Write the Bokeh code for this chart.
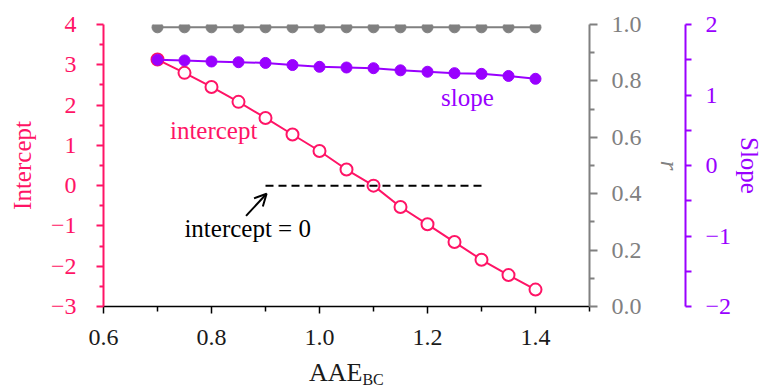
from bokeh.plotting import figure
from bokeh.layouts import column
from bokeh.models import (LinearAxis, Range1d, FixedTicker, Label, Arrow, OpenHead,
                          ColumnDataSource, CustomJSTickFormatter, Div)
from bokeh.embed import file_html
from bokeh.resources import INLINE

# ---- data ----
aae = [0.70, 0.75, 0.80, 0.85, 0.90, 0.95, 1.00, 1.05, 1.10, 1.15, 1.20, 1.25, 1.30, 1.35, 1.40]
intercept = [3.13, 2.80, 2.45, 2.08, 1.68, 1.27, 0.86, 0.40, 0.00, -0.53, -0.96, -1.40, -1.84, -2.22, -2.58]
slope = [1.50, 1.49, 1.475, 1.465, 1.455, 1.425, 1.40, 1.39, 1.38, 1.35, 1.33, 1.31, 1.30, 1.27, 1.23]
r_vals = [0.99, 0.99, 0.99, 0.99, 0.99, 0.99, 0.99, 0.99, 0.99, 0.99, 0.99, 0.99, 0.99, 0.99, 0.99]

x_ticks = [0.6, 0.8, 1.0, 1.2, 1.4]
x_tick_labels = ["0.6", "0.8", "1.0", "1.2", "1.4"]
int_ticks = [-3, -2, -1, 0, 1, 2, 3, 4]
int_tick_labels = ["\u22123", "\u22122", "\u22121", "0", "1", "2", "3", "4"]
r_ticks = [0.0, 0.2, 0.4, 0.6, 0.8, 1.0]
r_tick_labels = ["0.0", "0.2", "0.4", "0.6", "0.8", "1.0"]
slope_ticks = [-2, -1, 0, 1, 2]
slope_tick_labels = ["\u22122", "\u22121", "0", "1", "2"]

zero_line_x = [0.9, 1.3]
zero_line_y = [0, 0]

PINK = "#FF1466"
PURPLE = "#9900FF"
GRAY = "#808080"
FONT = "Liberation Serif"
TICK_FS = "24px"
LAB_FS = "25px"

PLOT_H = 354

p = figure(width=766, height=PLOT_H, output_backend="svg", toolbar_location=None,
           x_range=Range1d(0.6, 1.5), y_range=Range1d(-3, 4),
           min_border_left=103, min_border_right=176, min_border_top=24,
           min_border_bottom=PLOT_H - 306)
p.outline_line_color = None
p.xgrid.visible = False
p.ygrid.visible = False
p.extra_y_ranges = {"r": Range1d(0, 1), "slope": Range1d(-2, 2)}


def label_formatter(tick_values, tick_texts):
    return CustomJSTickFormatter(args=dict(tv=tick_values, lv=tick_texts), code="""
        for (let i = 0; i < tv.length; i++) {
            if (Math.abs(tv[i] - tick) < 1e-9) { return lv[i]; }
        }
        return "";
    """)


def style_axis(ax, color, ticks, labels, minor, label_text, tick_out=7,
               minor_out=4, label_standoff=10, axis_label_standoff=8):
    ax.ticker = FixedTicker(ticks=ticks, minor_ticks=minor)
    ax.formatter = label_formatter(ticks, labels)
    ax.axis_line_color = color
    ax.axis_line_width = 2
    ax.major_tick_line_color = color
    ax.major_tick_line_width = 2
    ax.minor_tick_line_color = color
    ax.minor_tick_line_width = 2
    ax.major_tick_out = tick_out
    ax.major_tick_in = 0
    ax.minor_tick_out = minor_out
    ax.minor_tick_in = 0
    ax.major_label_text_color = color
    ax.major_label_text_font = FONT
    ax.major_label_text_font_size = TICK_FS
    ax.major_label_text_font_style = "normal"
    ax.major_label_standoff = label_standoff
    ax.axis_label = label_text
    ax.axis_label_text_color = color
    ax.axis_label_text_font = FONT
    ax.axis_label_text_font_size = LAB_FS
    ax.axis_label_text_font_style = "normal"
    ax.axis_label_standoff = axis_label_standoff


# bottom axis
style_axis(p.xaxis[0], "black", x_ticks, x_tick_labels, [0.7, 0.9, 1.1, 1.3, 1.5], None,
           tick_out=7, minor_out=5, label_standoff=16)
p.xaxis[0].axis_line_width = 1.5
p.xaxis[0].major_tick_line_width = 1.5
p.xaxis[0].minor_tick_line_width = 1.5
p.xaxis[0].major_label_text_color = "#1a1a1a"

# left axis (intercept)
style_axis(p.yaxis[0], PINK, int_ticks, int_tick_labels,
           [-2.5, -1.5, -0.5, 0.5, 1.5, 2.5, 3.5], "Intercept",
           tick_out=7, minor_out=4, label_standoff=20, axis_label_standoff=12)

# right axis r (its label standoff also sets the gap before the slope axis)
r_axis = LinearAxis(y_range_name="r")
style_axis(r_axis, GRAY, r_ticks, r_tick_labels, [0.1, 0.3, 0.5, 0.7, 0.9], "r",
           tick_out=8, minor_out=5, label_standoff=14, axis_label_standoff=11)
r_axis.axis_label_text_font_style = "italic"
p.add_layout(r_axis, "right")

# right axis slope
s_axis = LinearAxis(y_range_name="slope")
style_axis(s_axis, PURPLE, slope_ticks, slope_tick_labels, [-1.5, -0.5, 0.5, 1.5], "Slope",
           tick_out=6, minor_out=6, label_standoff=14, axis_label_standoff=2)
p.add_layout(s_axis, "right")

# ---- series ----
src = ColumnDataSource(dict(x=aae, intercept=intercept, slope=slope, r=r_vals))

p.line("x", "intercept", source=src, line_color=PINK, line_width=2)
p.scatter("x", "intercept", source=src, size=12, fill_color="white",
          line_color=PINK, line_width=2)

p.line("x", "slope", source=src, line_color=PURPLE, line_width=2, y_range_name="slope")
p.scatter("x", "slope", source=src, size=11, fill_color=PURPLE, line_color=PURPLE,
          y_range_name="slope")

p.line("x", "r", source=src, line_color=GRAY, line_width=2, y_range_name="r")
p.scatter("x", "r", source=src, size=11, fill_color=GRAY, line_color=GRAY,
          y_range_name="r")

p.line(zero_line_x, zero_line_y, line_color="black", line_width=2, line_dash="8 5")

p.add_layout(Arrow(end=OpenHead(size=12, line_width=2, line_color="black"),
                   x_start=0.864, y_start=-0.75, x_end=0.902, y_end=-0.2,
                   line_color="black", line_width=2))

p.add_layout(Label(x=0.867, y=-1.07, text="intercept = 0", text_align="center",
                   text_baseline="middle", text_font=FONT, text_font_size="25px",
                   text_color="black"))
p.add_layout(Label(x=0.804, y=1.36, text="intercept", text_align="center",
                   text_baseline="middle", text_font=FONT, text_font_size="25px",
                   text_color=PINK))
p.add_layout(Label(x=1.274, y=2.19, text="slope", text_align="center",
                   text_baseline="middle", text_font=FONT, text_font_size="25px",
                   text_color=PURPLE))

# x-axis title AAE_BC (HTML with a real subscript)
title_div = Div(
    text='AAE<span style="font-size:16px; position:relative; top:4px;">BC</span>',
    width=766, height=387 - PLOT_H, margin=(0, 0, 0, 0),
    styles={"font-family": FONT, "font-size": "26px", "line-height": "26px",
            "color": "#1a1a1a", "padding-left": "309px", "padding-top": "6px",
            "white-space": "nowrap", "box-sizing": "border-box"})

layout = column(p, title_div, spacing=0)

open("out.html", "w").write(file_html(layout, INLINE))
